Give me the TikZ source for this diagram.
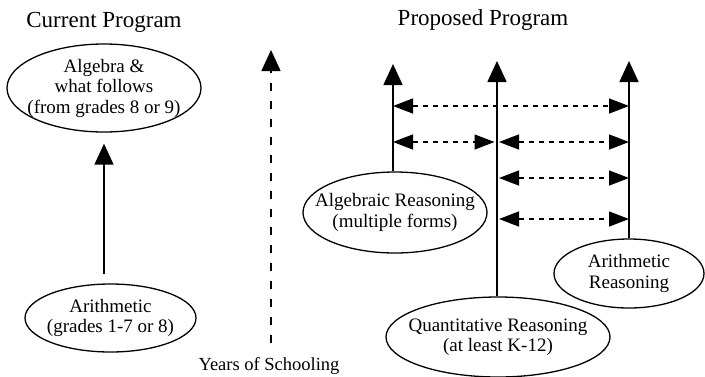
\documentclass[tikz,border=0pt]{standalone}
\usepackage{fontspec}
\setmainfont{Liberation Serif}
\usetikzlibrary{shapes.geometric,arrows.meta}
\begin{document}
\begin{tikzpicture}[x=1pt,y=-1pt,
  title/.style={font=\fontsize{23}{25}\selectfont, anchor=base},
  oval/.style={ellipse, draw, line width=1.3pt, inner sep=0pt},
  ovaltext/.style={align=center, inner sep=0pt, font=\fontsize{19}{20.5}\selectfont},
  label/.style={font=\fontsize{18.5}{20}\selectfont, anchor=base},
  tip/.style={-{Triangle[width=19pt,length=21pt]}},
  solidarrow/.style={tip, line width=1.6pt},
  dasharrow/.style={{Triangle[width=15pt,length=20pt]}-{Triangle[width=15pt,length=20pt]},
    line width=1.4pt, dash pattern=on 5.5pt off 4.5pt},
  timeline/.style={tip, line width=1.4pt, dash pattern=on 8pt off 10pt}]
\useasboundingbox (0,0) rectangle (705,376);

% headings
\node[title] (cur) at (104,27) {Current Program};
\node[title] (prop) at (483,25) {Proposed Program};

% current program
\node[oval, minimum width=194pt, minimum height=88pt] (alg) at (104,88) {};
\node[ovaltext] (algt) at (alg) {Algebra \&\\what follows\\(from grades 8 or 9)};
\node[oval, minimum width=171pt, minimum height=68pt] (arith) at (110.5,318) {};
\node[ovaltext] (aritht) at (arith) {Arithmetic\\(grades 1-7 or 8)};
\coordinate (cx) at (104,0);
\draw[solidarrow, shorten <=9pt, shorten >=11pt] (arith.north -| cx) -- (alg.south -| cx);

% years of schooling
\coordinate (ys0) at (271,343);
\coordinate (ys1) at (271,50);
\draw[timeline] (ys0) -- (ys1);
\node[label] (years) at (269,370) {Years of Schooling};

% proposed program
\node[oval, minimum width=184pt, minimum height=81pt] (algr) at (395,212.5) {};
\node[ovaltext] (algrt) at (algr) {Algebraic Reasoning\\(multiple forms)};
\node[oval, minimum width=150pt, minimum height=69pt] (arr) at (629,273.5) {};
\node[ovaltext] (arrt) at (arr) {Arithmetic\\Reasoning};
\node[oval, minimum width=224pt, minimum height=80pt] (quant) at (498,337) {};
\node[ovaltext] (quantt) at (quant) {Quantitative Reasoning\\(at least K-12)};

\coordinate (t1) at (393,64);
\coordinate (t2) at (497,61);
\coordinate (t3) at (629,61);
\draw[solidarrow] (algr.north -| t1) -- (t1);
\draw[solidarrow] (quant.north -| t2) -- (t2);
\draw[solidarrow] (arr.north -| t3) -- (t3);

\coordinate (r1) at (0,106);
\coordinate (r2) at (0,142);
\coordinate (r3) at (0,178);
\coordinate (r4) at (0,219);
\draw[dasharrow] (t1 |- r1) -- (t3 |- r1);
\draw[dasharrow, shorten >=2.5pt] (t1 |- r2) -- (t2 |- r2);
\draw[dasharrow, shorten <=2pt] (t2 |- r2) -- (t3 |- r2);
\draw[dasharrow, shorten <=2pt] (t2 |- r3) -- (t3 |- r3);
\draw[dasharrow, shorten <=2pt] (t2 |- r4) -- (t3 |- r4);
\end{tikzpicture}
\end{document}
